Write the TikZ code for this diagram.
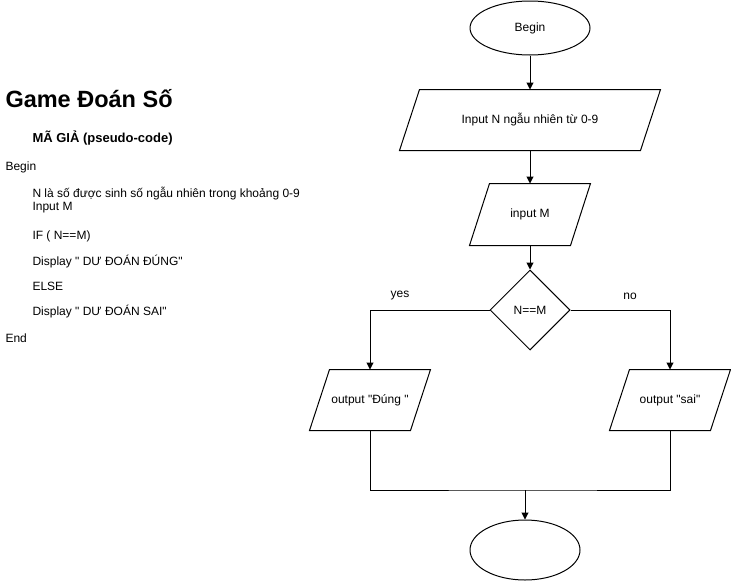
\documentclass[tikz,border=0pt]{standalone}
\usepackage{fontspec}
\setmainfont{Liberation Sans}
\usetikzlibrary{shapes.geometric,arrows.meta}
\newcommand{\dq}{\textquotedbl}
\begin{document}
\begin{tikzpicture}[x=1pt,y=-1pt,
  font=\fontsize{12}{14}\selectfont,
  every path/.style={line width=1pt},
  arr/.style={-{Triangle[length=7pt,width=7pt]}},
  term/.style={ellipse,draw,inner sep=0pt},
  pbox/.style={inner sep=0pt},
  dec/.style={diamond,draw,inner sep=0pt,minimum width=80pt,minimum height=80pt},
  lefttxt/.style={anchor=base west,inner sep=0pt}
]
\useasboundingbox (0,0) rectangle (731,581);
% left pseudo-code text
\node[lefttxt,font=\fontsize{23.5}{26}\selectfont\bfseries] (title) at (5,107.5) {Game Đoán Số};
\node[lefttxt,font=\fontsize{13}{15}\selectfont\bfseries] (sub) at (32,142) {MÃ GIẢ (pseudo-code)};
\node[lefttxt] (l1) at (5,170) {Begin};
\node[lefttxt] (l2) at (32,197) {N là số được sinh số ngẫu nhiên trong khoảng 0-9};
\node[lefttxt] (l3) at (32,210) {Input M};
\node[lefttxt] (l4) at (32,239) {IF ( N==M)};
\node[lefttxt] (l5) at (32,265.5) {Display \dq{} DƯ ĐOÁN ĐÚNG\dq};
\node[lefttxt] (l6) at (32,290.5) {ELSE};
\node[lefttxt] (l7) at (32,315.5) {Display \dq{} DƯ ĐOÁN SAI\dq};
\node[lefttxt] (l8) at (5,342) {End};
% flowchart nodes
\node[term,minimum width=120pt,minimum height=54pt] (begin) at (530,28) {Begin};
\node[pbox,minimum width=260pt,minimum height=60pt] (inN) at (530,120) {Input N ngẫu nhiên từ 0-9};
\node[pbox,minimum width=120pt,minimum height=61pt] (inM) at (530,214.5) {input M};
\node[dec] (d) at (530,310) {N==M};
\node[pbox,minimum width=120pt,minimum height=60pt] (oy) at (370,400) {output \dq Đúng \dq};
\node[pbox,minimum width=120pt,minimum height=60pt] (on) at (670,400) {output \dq sai\dq};
\node[term,minimum width=110pt,minimum height=60pt] (end) at (525,550) {};
% parallelogram outlines
\foreach \n in {inN,inM,oy,on}{
  \draw ([xshift=20pt]\n.north west) -- (\n.north east) -- ([xshift=-20pt]\n.south east) -- (\n.south west) -- cycle;
}
% labels
\node (yes) at (400,296) {yes};
\node (no) at (630,296) {no};
% connectors
\coordinate (m) at (525,490);
\draw[arr] (begin.south) -- (inN.north);
\draw[arr] (inN.south) -- (inM.north);
\draw[arr] (inM.south) -- (d.north);
\draw[arr] (d.west) -| (oy.north);
\draw[arr] (d.east) -| (on.north);
\draw (oy.south) |- (m) -| (on.south);
\draw[arr] (m) -- (end.north);
\end{tikzpicture}
\end{document}
